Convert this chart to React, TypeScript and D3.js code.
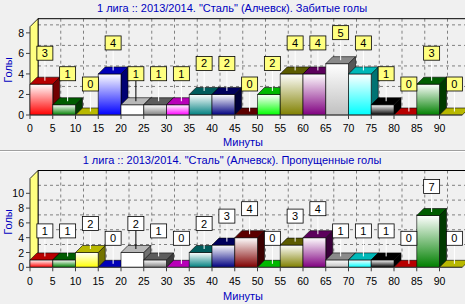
import React from 'react';
import * as d3 from 'd3';

const minuteStarts = [0, 5, 10, 15, 20, 25, 30, 35, 40, 45, 50, 55, 60, 65, 70, 75, 80, 85, 90];
const xTickLabels = [0, 5, 10, 15, 20, 25, 30, 35, 40, 45, 50, 55, 60, 65, 70, 75, 80, 85, 90];
const scoredGoals = [3, 1, 0, 4, 1, 1, 1, 2, 2, 0, 2, 4, 4, 5, 4, 1, 0, 3, 0];
const concededGoals = [1, 1, 2, 0, 2, 1, 0, 2, 3, 4, 0, 3, 4, 1, 1, 1, 0, 7, 0];
const scoredYTicks = [0, 2, 4, 6, 8];
const concededYTicks = [0, 2, 4, 6, 8, 10];
const barColors = ['#FF0000', '#008000', '#FFFF00', '#0000FF', '#FFFFFF', '#808080', '#FF00FF', '#008080', '#000080', '#800000', '#00FF00', '#808000', '#800080', '#C0C0C0', '#00FFFF', '#000000', '#FF0000', '#008000', '#FFFF00'];
const titleScored = '1 лига :: 2013/2014. "Сталь" (Алчевск). Забитые голы';
const titleConceded = '1 лига :: 2013/2014. "Сталь" (Алчевск). Пропущенные голы';
const xTitle = 'Минуты';
const yTitle = 'Голы';

const FONT = '"Liberation Sans", Arial, sans-serif';
const BLUE = '#0000C0';
const WALL = 8;
const DEPTH = 7;

function darken(c: string, k: number) {
  const rgb = d3.rgb(c);
  return d3.rgb(rgb.r * k, rgb.g * k, rgb.b * k).formatHex();
}

type PanelProps = {
  id: string;
  title: string;
  values: number[];
  yTicks: number[];
  yMax: number;
  y0: number;
  yTop: number;
  titleY: number;
  xLabelY: number;
  xTitleY: number;
  yTitleY: number;
  markFill: string;
  gap: number;
};

function Panel(p: PanelProps) {
  const x = d3.scaleLinear().domain([0, 95]).range([30, 30 + 19 * 22.75]);
  const y = d3.scaleLinear().domain([0, p.yMax]).range([p.y0, p.yTop]);
  const backTop = p.yTop - WALL;
  const backBottom = p.y0 - WALL;
  const backLeft = x(0) + WALL;
  return (
    <g>
      <defs>
        {barColors.map((c, i) => (
          <linearGradient key={i} id={`${p.id}-g${i}`} x1="0" y1="0" x2="0" y2="1">
            <stop offset="0" stopColor="#FFFFFF" />
            <stop offset="1" stopColor={c} />
          </linearGradient>
        ))}
      </defs>
      <text x={232} y={p.titleY} textAnchor="middle" dominantBaseline="central" fontFamily={FONT} fontSize={11} fill={BLUE}>{p.title}</text>
      {/* back wall grid */}
      {p.yTicks.filter(t => t > 0).map(t => (
        <line key={'h' + t} x1={backLeft} x2={470} y1={y(t) - WALL} y2={y(t) - WALL} stroke="#808080" strokeDasharray="3,3" />
      ))}
      {xTickLabels.filter(t => t > 0).map(t => (
        <line key={'v' + t} x1={x(t) + WALL} x2={x(t) + WALL} y1={backTop} y2={backBottom} stroke="#808080" strokeDasharray="3,3" />
      ))}
      <line x1={backLeft} x2={470} y1={backTop} y2={backTop} stroke="#000" />
      <line x1={backLeft} x2={backLeft} y1={backTop} y2={backBottom} stroke="#000" />
      {/* left wall */}
      <polygon points={`${x(0)},${p.yTop} ${backLeft},${backTop} ${backLeft},${backBottom} ${x(0)},${p.y0}`} fill="#FFFF80" stroke="#000" strokeWidth={0.8} />
      {/* bars */}
      {p.values.map((v, i) => {
        const x0 = x(minuteStarts[i]);
        const x1 = x(minuteStarts[i] + 5);
        const yt = y(v);
        const c = barColors[i];
        return (
          <g key={i} stroke="#000" strokeWidth={0.6} strokeLinejoin="round">
            {v > 0 && <polygon points={`${x1},${yt} ${x1 + DEPTH},${yt - DEPTH} ${x1 + DEPTH},${p.y0 - DEPTH} ${x1},${p.y0}`} fill={darken(c, 0.45)} />}
            {v > 0 && <rect x={x0} y={yt} width={x1 - x0} height={p.y0 - yt} fill={`url(#${p.id}-g${i})`} />}
            <polygon points={`${x0},${yt} ${x1},${yt} ${x1 + DEPTH},${yt - DEPTH} ${x0 + DEPTH},${yt - DEPTH}`} fill={darken(c, 0.72)} />
          </g>
        );
      })}
      {/* axes */}
      <line x1={x(0)} x2={x(95)} y1={p.y0} y2={p.y0} stroke="#404040" />
      {xTickLabels.map(t => (
        <g key={'xt' + t}>
          <line x1={x(t)} x2={x(t)} y1={p.y0} y2={p.y0 + 4} stroke="#404040" />
          <text x={x(t)} y={p.xLabelY} textAnchor="middle" dominantBaseline="central" fontFamily={FONT} fontSize={10.5} fill="#000">{t}</text>
        </g>
      ))}
      {p.yTicks.map(t => (
        <g key={'yt' + t}>
          <line x1={x(0) - 4} x2={x(0)} y1={y(t)} y2={y(t)} stroke="#404040" />
          <text x={24} y={y(t)} textAnchor="end" dominantBaseline="central" fontFamily={FONT} fontSize={10.5} fill="#000">{t}</text>
        </g>
      ))}
      <text x={243} y={p.xTitleY} textAnchor="middle" dominantBaseline="central" fontFamily={FONT} fontSize={11} fill={BLUE}>{xTitle}</text>
      <text transform={`translate(8,${p.yTitleY}) rotate(-90)`} textAnchor="middle" dominantBaseline="central" fontFamily={FONT} fontSize={11} fill={BLUE}>{yTitle}</text>
      {/* marks */}
      {p.values.map((v, i) => {
        const cx = (x(minuteStarts[i]) + x(minuteStarts[i] + 5)) / 2 + DEPTH / 2;
        const topMid = y(v) - DEPTH / 2;
        const boxBottom = y(v) - DEPTH - p.gap;
        const w = 16;
        const h = 14;
        return (
          <g key={'m' + i}>
            <line x1={cx} x2={cx} y1={topMid} y2={boxBottom} stroke={barColors[i] === '#FFFFFF' ? '#000' : '#FFF'} />
            <rect x={cx - w / 2} y={boxBottom - h} width={w} height={h} fill={p.markFill} stroke="#000" strokeWidth={0.8} />
            <text x={cx} y={boxBottom - h / 2} textAnchor="middle" dominantBaseline="central" fontFamily={FONT} fontSize={11} fill="#000">{v}</text>
          </g>
        );
      })}
    </g>
  );
}

export default function App() {
  return (
    <svg width={465} height={304} style={{ position: 'absolute', left: 0, top: 0, background: '#F0F0F0' }}>
      <rect x={0} y={0} width={465} height={304} fill="#F0F0F0" />
      <Panel id="p1" title={titleScored} values={scoredGoals} yTicks={scoredYTicks} yMax={8.6} y0={115} yTop={26.7}
        titleY={8} xLabelY={127.5} xTitleY={142} yTitleY={70} markFill="#FFFF80" gap={17} />
      <line x1={0} x2={465} y1={150.5} y2={150.5} stroke="#A0A0A0" />
      <line x1={0} x2={465} y1={151.5} y2={151.5} stroke="#FFFFFF" />
      <Panel id="p2" title={titleConceded} values={concededGoals} yTicks={concededYTicks} yMax={12} y0={267.3} yTop={178.5}
        titleY={160} xLabelY={281} xTitleY={296} yTitleY={222} markFill="#FFFFFF" gap={15} />
    </svg>
  );
}
